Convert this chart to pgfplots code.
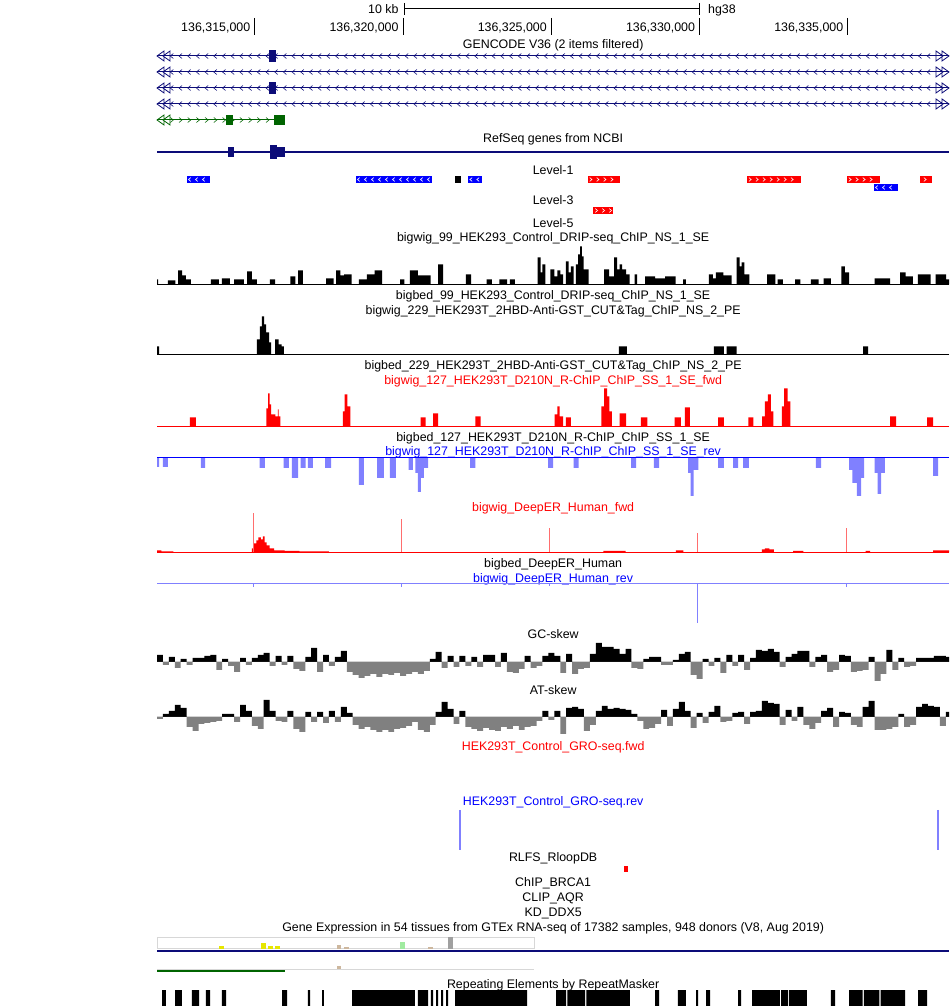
\documentclass[border=0pt]{standalone}
\usepackage{pgfplots}
\pgfplotsset{compat=1.18}
\usepackage{pgfplotstable}
\usepackage{fontspec}
\setmainfont{Liberation Sans}
\usetikzlibrary{decorations.markings}

\definecolor{navy}{RGB}{12,12,120}
\definecolor{ggreen}{RGB}{0,100,0}
\definecolor{ured}{RGB}{255,0,0}
\definecolor{ublue}{RGB}{0,0,255}
\definecolor{lblue}{RGB}{128,128,255}
\definecolor{sgray}{RGB}{128,128,128}
\definecolor{lgray}{RGB}{215,215,215}
\definecolor{gyellow}{RGB}{230,230,0}
\definecolor{gtan}{RGB}{205,183,158}
\definecolor{glgreen}{RGB}{160,235,160}
\definecolor{ggray}{RGB}{160,160,160}
\definecolor{pink}{RGB}{255,110,110}

\pgfdeclareplotmark{dtl}{%
  \pgfpathmoveto{\pgfqpoint{7pt}{5pt}}\pgfpathlineto{\pgfqpoint{0pt}{0pt}}\pgfpathlineto{\pgfqpoint{7pt}{-5pt}}\pgfpathclose
  \pgfpathmoveto{\pgfqpoint{13pt}{5pt}}\pgfpathlineto{\pgfqpoint{6pt}{0pt}}\pgfpathlineto{\pgfqpoint{13pt}{-5pt}}\pgfpathclose
  \pgfusepathqstroke}
\pgfdeclareplotmark{dtr}{%
  \pgfpathmoveto{\pgfqpoint{-7pt}{5pt}}\pgfpathlineto{\pgfqpoint{0pt}{0pt}}\pgfpathlineto{\pgfqpoint{-7pt}{-5pt}}\pgfpathclose
  \pgfpathmoveto{\pgfqpoint{-13pt}{5pt}}\pgfpathlineto{\pgfqpoint{-6pt}{0pt}}\pgfpathlineto{\pgfqpoint{-13pt}{-5pt}}\pgfpathclose
  \pgfusepathqstroke}

\tikzset{
  chevL/.style n args={3}{postaction={decorate},decoration={markings,mark=between positions 0 and 1 step #2 with {\draw[#1,line width=0.6pt] (#3*1.5pt,#3*2.5pt) -- (-#3*1.5pt,0pt) -- (#3*1.5pt,-#3*2.5pt);}}},
  chevR/.style n args={3}{postaction={decorate},decoration={markings,mark=between positions 0 and 1 step #2 with {\draw[#1,line width=0.6pt] (-#3*1.5pt,#3*2.5pt) -- (#3*1.5pt,0pt) -- (-#3*1.5pt,-#3*2.5pt);}}},
  lab/.style={anchor=base, inner sep=0pt, font=\fontsize{12.4}{14}\selectfont},
}
\pgfplotsset{trk/.style={hide axis, scale only axis, width=792pt, xmin=311.70, xmax=338.41, clip=false}}

\newcommand{\rect}[5]{\addplot[fill=#1,draw=none] coordinates {(#2,#4) (#3,#4) (#3,#5) (#2,#5)};}

% ---------- signal data (x in kb after 136,000,000; y in track units) ----------
\pgfplotstableread{
x y
311.70 0
311.70 5
311.74 0
312.07 4
312.32 0
312.41 14
312.55 9
312.67 5
312.84 0
313.52 5
313.79 0
313.89 6
314.16 0
314.30 5
314.63 0
314.74 13
314.90 5
315.07 0
315.51 5
315.68 0
316.20 8
316.37 0
316.46 14
316.62 0
317.40 6
317.66 0
317.74 14
317.88 9
318.01 10
318.26 0
318.51 5
318.78 10
319.04 14
319.29 0
319.90 5
320.04 0
320.23 14
320.50 9
320.93 0
321.18 20
321.35 0
322.12 10
322.29 0
322.82 5
322.99 0
323.25 5
323.51 0
323.60 5
323.77 0
324.54 27
324.64 12
324.70 20
324.80 0
324.97 15
325.10 8
325.20 14
325.30 10
325.40 0
325.49 23
325.58 12
325.66 18
325.75 0
325.83 20
325.90 30
325.97 38
326.03 28
326.09 15
326.26 0
326.78 15
326.95 8
327.12 27
327.22 15
327.30 20
327.39 15
327.52 10
327.64 0
327.81 10
327.89 0
328.16 8
328.50 6
328.84 8
329.19 0
329.44 5
329.54 0
330.31 10
330.45 6
330.55 12
330.80 9
331.08 0
331.25 27
331.35 18
331.42 22
331.51 10
331.68 0
332.28 10
332.55 0
332.63 5
332.81 0
333.22 5
333.40 0
333.75 5
334.01 0
334.18 6
334.43 0
334.78 18
334.90 12
335.04 0
335.90 6
336.42 0
336.76 12
336.95 8
337.19 0
337.36 10
337.79 0
337.96 10
338.31 5
338.41 0
}\drip

\pgfplotstableread{
x y
311.70 0
311.70 8
311.77 0
315.07 15
315.17 28
315.24 38
315.31 30
315.38 22
315.48 12
315.55 0
315.68 15
315.80 10
315.90 8
315.98 0
327.28 8
327.55 0
330.48 8
330.82 0
330.91 8
331.25 0
335.51 8
335.68 0
338.41 0
}\cuttag

\pgfplotstableread{
x y
311.70 0
312.81 9
313.01 0
315.39 18
315.45 33
315.50 22
315.55 12
315.69 10
315.78 17
315.80 10
315.86 0
317.97 15
318.03 32
318.12 20
318.22 0
320.59 9
320.76 0
321.01 13
321.18 0
322.44 10
322.61 0
325.11 12
325.20 20
325.28 10
325.40 0
325.49 9
325.66 0
326.69 20
326.78 38
326.88 30
326.96 15
327.04 0
327.30 13
327.52 0
328.02 9
328.24 0
329.16 9
329.37 0
329.50 19
329.67 0
330.62 9
330.82 0
331.64 9
331.81 0
332.11 10
332.20 25
332.30 32
332.40 15
332.49 0
332.77 20
332.85 38
332.97 25
333.06 0
336.42 10
336.63 0
337.67 9
337.87 0
338.41 0
}\rchipfwd

\pgfplotstableread{
x y
311.70 0
311.70 -9
311.77 0
311.90 -9
312.07 0
313.18 -10
313.32 0
315.16 -10
315.34 0
315.97 -10
316.15 0
316.25 -20
316.46 0
316.54 -10
316.71 0
316.79 -10
316.96 0
317.37 -10
317.57 0
318.51 -27
318.68 0
319.12 -20
319.35 0
319.55 -20
319.76 0
320.19 -12
320.33 0
320.41 -15
320.50 -34
320.60 -20
320.70 -10
320.84 0
322.26 -10
322.44 0
324.89 -10
325.06 0
325.75 -10
325.92 0
327.69 -10
327.86 0
328.46 -10
328.63 0
329.61 -15
329.70 -38
329.80 -12
329.96 0
330.62 -10
330.82 0
331.13 -10
331.30 0
331.47 -10
331.66 0
333.92 -10
334.10 0
335.04 -12
335.15 -25
335.30 -38
335.45 -20
335.55 0
335.90 -15
336.00 -36
336.12 -15
336.25 0
337.87 -18
338.04 0
338.41 0
}\rchiprev

\pgfplotstableread{
x y
311.70 0
311.70 2
311.85 1
312.25 0
314.90 4
314.97 9
315.05 12
315.12 15
315.20 13
315.27 16
315.33 10
315.40 7
315.50 4
315.65 2
316.00 1.5
316.50 1
317.50 0
326.75 1.5
327.50 0
329.20 2
329.45 0
332.10 3
332.20 4
332.35 3
332.50 0
333.15 1.5
333.50 0
335.60 1.5
335.75 0
337.87 2
338.41 0
}\deepfwd

\pgfplotstableread{
x gc at
311.70 0 0
311.70 7 -2
311.90 -3 3
312.10 5 6
312.30 -6 12
312.50 3 9
312.70 -3 -10
312.90 4 -14
313.10 4 -7
313.30 6 -6
313.50 7 -5
313.70 -8 -4
313.90 3 3
314.10 -4 3
314.30 -10 -5
314.50 4 12
314.70 -3 6
314.90 4 -9
315.10 7 -12
315.30 9 17
315.50 -4 6
315.70 6 -4
315.90 -3 -5
316.10 6 6
316.30 -7 -12
316.50 -9 -15
316.70 5 5
316.90 14 -5
317.10 -10 5
317.30 7 -6
317.50 -4 6
317.70 5 -5
317.90 11 10
318.10 -10 4
318.30 -13 -8
318.50 -16 -12
318.70 -14 -10
318.90 -12 -13
319.10 -15 -15
319.30 -12 -13
319.50 -13 -15
319.70 -11 -12
319.90 -14 -11
320.10 -12 -9
320.30 -10 -5
320.50 -12 -13
320.70 -9 -15
320.90 3 -8
321.10 10 5
321.30 -6 15
321.50 6 8
321.70 -5 -7
321.90 6 6
322.10 -4 -10
322.30 5 -12
322.50 -5 -14
322.70 7 -11
322.90 7 -13
323.10 -5 -14
323.30 9 -10
323.50 -10 -12
323.70 -11 -9
323.90 -7 -13
324.10 6 -10
324.30 -6 -9
324.50 -4 -4
324.70 6 6
324.90 9 -3
325.10 6 6
325.30 -11 -17
325.50 8 9
325.70 -12 10
325.90 -7 8
326.10 -6 -14
326.30 8 -8
326.50 19 6
326.70 15 11
326.90 15 8
327.10 13 9
327.30 8 8
327.50 13 7
327.70 -6 3
327.90 -7 -4
328.10 3 -12
328.30 5 -11
328.50 5 -7
328.70 -3 7
328.90 -3 -9
329.10 2 8
329.30 8 15
329.50 10 6
329.70 -13 -11
329.90 -17 4
330.10 3 -6
330.30 -4 5
330.50 4 11
330.70 -11 -5
330.90 7 -4
331.10 -4 4
331.30 7 5
331.50 -8 -7
331.70 4 5
331.90 12 6
332.10 11 16
332.30 13 14
332.50 10 13
332.70 -5 -8
332.90 5 7
333.10 8 -4
333.30 11 10
333.50 11 -8
333.70 -5 -12
333.90 5 -6
334.10 7 6
334.30 -10 9
334.50 -8 -10
334.70 7 5
334.90 6 4
335.10 -10 -8
335.30 -9 -10
335.50 -8 10
335.70 5 16
335.90 -19 -13
336.10 -12 -13
336.30 12 -12
336.50 -8 -10
336.70 4 3
336.90 -5 -10
337.10 -4 -8
337.30 4 10
337.50 4 13
337.70 4 11
337.90 6 10
338.10 6 -9
338.30 5 5
338.41 0 0
}\skew

\begin{document}
\begin{tikzpicture}
\useasboundingbox (0,0) rectangle (950pt,1006pt);

% ================= frame axis: annotation tracks, y = image row =================
\begin{axis}[trk, height=1006pt, ymin=0, ymax=1006, y dir=reverse, at={(157pt,0pt)}, anchor=south west]
% ruler
\addplot[black, line width=1pt] coordinates {(320.03,9) (330.01,9)};
\addplot[black, line width=1pt] coordinates {(320.03,3) (320.03,15)};
\addplot[black, line width=1pt] coordinates {(330.01,3) (330.01,15)};
\node[lab, anchor=base east] at (axis cs:319.85,13.5) {10 kb};
\node[lab, anchor=base west] at (axis cs:330.28,13.5) {hg38};
\addplot[black, line width=1pt] coordinates {(315,18) (315,35)};
\addplot[black, line width=1pt] coordinates {(320,18) (320,35)};
\addplot[black, line width=1pt] coordinates {(325,18) (325,35)};
\addplot[black, line width=1pt] coordinates {(330,18) (330,35)};
\addplot[black, line width=1pt] coordinates {(335,18) (335,35)};
\node[lab, anchor=base east] at (axis cs:314.85,31.5) {136,315,000};
\node[lab, anchor=base east] at (axis cs:319.85,31.5) {136,320,000};
\node[lab, anchor=base east] at (axis cs:324.85,31.5) {136,325,000};
\node[lab, anchor=base east] at (axis cs:329.85,31.5) {136,330,000};
\node[lab, anchor=base east] at (axis cs:334.85,31.5) {136,335,000};

% GENCODE
\node[lab] at (axis cs:325.06,48.5) {GENCODE V36 (2 items filtered)};
\addplot[navy, line width=1pt] coordinates {(311.70,56) (338.41,56)};
\addplot[navy, line width=1pt] coordinates {(311.70,72) (338.41,72)};
\addplot[navy, line width=1pt] coordinates {(311.70,88) (338.41,88)};
\addplot[navy, line width=1pt] coordinates {(311.70,104) (338.41,104)};
\addplot[draw=none, chevL={navy}{8.7pt}{1}] coordinates {(312.20,56) (337.95,56)};
\addplot[draw=none, chevL={navy}{8.7pt}{1}] coordinates {(312.20,72) (337.95,72)};
\addplot[draw=none, chevL={navy}{8.7pt}{1}] coordinates {(312.20,88) (337.95,88)};
\addplot[draw=none, chevL={navy}{8.7pt}{1}] coordinates {(312.20,104) (337.95,104)};
\addplot[only marks, mark=dtl, navy, mark options={line width=0.8pt}] coordinates {(311.70,56) (311.70,72) (311.70,88) (311.70,104)};
\addplot[only marks, mark=dtr, navy, mark options={line width=0.8pt}] coordinates {(338.41,56) (338.41,72) (338.41,88) (338.41,104)};
\rect{navy}{315.49}{315.70}{50}{62}
\rect{navy}{315.49}{315.70}{82}{94}
\addplot[ggreen, line width=1pt] coordinates {(311.70,120) (316.02,120)};
\addplot[draw=none, chevR={ggreen}{8.7pt}{1}] coordinates {(312.20,120) (315.90,120)};
\addplot[only marks, mark=dtl, ggreen, mark options={line width=0.8pt}] coordinates {(311.70,120)};
\rect{ggreen}{314.04}{314.26}{115}{125}
\rect{ggreen}{315.65}{316.02}{115}{125}

% RefSeq
\node[lab] at (axis cs:325.06,142.5) {RefSeq genes from NCBI};
\addplot[navy, line width=1.5pt] coordinates {(311.70,152) (338.41,152)};
\rect{navy}{314.08}{314.30}{147}{157}
\rect{navy}{315.51}{315.73}{145}{159}
\rect{navy}{315.73}{316.02}{147}{157}

% Level tracks
\node[lab] at (axis cs:325.06,174.5) {Level-1};
\rect{ublue}{312.70}{313.49}{176}{183}
\rect{ublue}{318.40}{320.98}{176}{183}
\rect{black}{321.75}{321.95}{176}{183}
\rect{ublue}{322.19}{322.66}{176}{183}
\rect{ured}{326.23}{327.32}{176}{183}
\rect{ured}{331.60}{333.42}{176}{183}
\rect{ured}{334.97}{336.09}{176}{183}
\rect{ured}{337.44}{337.84}{176}{183}
\rect{ublue}{335.87}{336.69}{184}{191}
\addplot[draw=none, chevL={white}{7pt}{0.75}] coordinates {(312.80,179.5) (313.40,179.5)};
\addplot[draw=none, chevL={white}{7pt}{0.75}] coordinates {(318.50,179.5) (320.90,179.5)};
\addplot[draw=none, chevL={white}{7pt}{0.75}] coordinates {(322.29,179.5) (322.58,179.5)};
\addplot[draw=none, chevR={white}{7pt}{0.75}] coordinates {(326.33,179.5) (327.22,179.5)};
\addplot[draw=none, chevR={white}{7pt}{0.75}] coordinates {(331.70,179.5) (333.32,179.5)};
\addplot[draw=none, chevR={white}{7pt}{0.75}] coordinates {(335.07,179.5) (335.99,179.5)};
\addplot[draw=none, chevR={white}{7pt}{0.75}] coordinates {(337.60,179.5) (337.70,179.5)};
\addplot[draw=none, chevL={white}{7pt}{0.75}] coordinates {(335.97,187.5) (336.60,187.5)};
\node[lab] at (axis cs:325.06,204.5) {Level-3};
\rect{ured}{326.40}{327.09}{207}{214}
\addplot[draw=none, chevR={white}{7pt}{0.75}] coordinates {(326.52,210.5) (327.00,210.5)};
\node[lab] at (axis cs:325.06,227.5) {Level-5};

% track labels
\node[lab] at (axis cs:325.06,241.5) {bigwig\_99\_HEK293\_Control\_DRIP-seq\_ChIP\_NS\_1\_SE};
\node[lab] at (axis cs:325.06,299.5) {bigbed\_99\_HEK293\_Control\_DRIP-seq\_ChIP\_NS\_1\_SE};
\node[lab] at (axis cs:325.06,314.5) {bigwig\_229\_HEK293T\_2HBD-Anti-GST\_CUT\&Tag\_ChIP\_NS\_2\_PE};
\node[lab] at (axis cs:325.06,369.5) {bigbed\_229\_HEK293T\_2HBD-Anti-GST\_CUT\&Tag\_ChIP\_NS\_2\_PE};
\node[lab, text=ured] at (axis cs:325.06,384.5) {bigwig\_127\_HEK293T\_D210N\_R-ChIP\_ChIP\_SS\_1\_SE\_fwd};
\node[lab] at (axis cs:325.06,441.5) {bigbed\_127\_HEK293T\_D210N\_R-ChIP\_ChIP\_SS\_1\_SE};
\node[lab, text=ublue] at (axis cs:325.06,455.5) {bigwig\_127\_HEK293T\_D210N\_R-ChIP\_ChIP\_SS\_1\_SE\_rev};
\node[lab, text=ured] at (axis cs:325.06,511.5) {bigwig\_DeepER\_Human\_fwd};
\node[lab] at (axis cs:325.06,567.5) {bigbed\_DeepER\_Human};
\node[lab, text=ublue] at (axis cs:325.06,582.5) {bigwig\_DeepER\_Human\_rev};
\node[lab] at (axis cs:325.06,638.5) {GC-skew};
\node[lab] at (axis cs:325.06,694.5) {AT-skew};
\node[lab, text=ured] at (axis cs:325.06,750.5) {HEK293T\_Control\_GRO-seq.fwd};
\node[lab, text=ublue] at (axis cs:325.06,805.5) {HEK293T\_Control\_GRO-seq.rev};
\node[lab] at (axis cs:325.06,861.5) {RLFS\_RloopDB};
\rect{ured}{327.45}{327.58}{866}{872}
\node[lab] at (axis cs:325.06,886.5) {ChIP\_BRCA1};
\node[lab] at (axis cs:325.06,901.5) {CLIP\_AQR};
\node[lab] at (axis cs:325.06,916.5) {KD\_DDX5};
\node[lab] at (axis cs:325.06,931.5) {Gene Expression in 54 tissues from GTEx RNA-seq of 17382 samples, 948 donors (V8, Aug 2019)};

% GTEx
\addplot[lgray, line width=1pt] coordinates {(311.70,937.5) (324.42,937.5) (324.42,948.5) (311.70,948.5) (311.70,937.5)};
\rect{gyellow}{313.80}{313.97}{946}{949}
\rect{gyellow}{315.22}{315.39}{943}{949}
\rect{gyellow}{315.45}{315.62}{946}{949}
\rect{gyellow}{315.69}{315.86}{946}{949}
\rect{gtan}{317.76}{317.89}{945}{949}
\rect{gtan}{317.99}{318.16}{947}{949}
\rect{glgreen}{319.88}{320.05}{942}{949}
\rect{gtan}{320.83}{321.00}{947}{949}
\rect{ggray}{321.53}{321.68}{937}{949}
\addplot[navy, line width=2pt] coordinates {(311.70,950.5) (338.41,950.5)};
\addplot[lgray, line width=1pt] coordinates {(311.70,969) (324.42,969)};
\rect{gtan}{317.76}{317.89}{966}{968.5}
\addplot[ggreen, line width=2pt] coordinates {(311.70,971) (316.02,971)};

% RepeatMasker
\node[lab] at (axis cs:325.06,988.5) {Repeating Elements by RepeatMasker};
\addplot[const plot, fill=black, draw=none] coordinates {
(311.70,1006)
(311.87,990)(312.00,1006)
(312.31,990)(312.54,1006)
(312.88,990)(313.12,1006)
(313.35,990)(313.49,1006)
(313.89,990)(314.03,1006)
(315.92,990)(316.09,1006)
(316.79,990)(316.86,1006)
(317.27,990)(317.33,1006)
(318.28,990)(320.40,1006)
(320.50,990)(320.84,1006)
(320.94,990)(321.01,1006)
(321.11,990)(321.18,1006)
(321.28,990)(321.35,1006)
(321.45,990)(321.52,1006)
(321.75,990)(324.18,1006)
(325.16,990)(325.50,1006)(325.54,990)(326.14,1006)(326.18,990)(327.65,1006)
(328.50,990)(328.63,1006)
(329.27,990)(329.54,1006)
(329.88,990)(329.95,1006)
(330.22,990)(330.35,1006)
(331.30,990)(331.40,1006)
(331.77,990)(332.71,1006)(332.75,990)(332.98,1006)(333.02,990)(333.62,1006)
(334.43,990)(334.57,1006)
(335.04,990)(335.50,1006)(335.54,990)(336.06,1006)(336.10,990)(336.93,1006)
(337.37,990)(337.67,1006)
(338.41,1006)};
\end{axis}

% ================= signal tracks =================
% DRIP
\begin{axis}[trk, height=42pt, ymin=0, ymax=42, at={(157pt,721.5pt)}, anchor=south west]
\addplot[const plot, fill=black, draw=none] table[x=x,y=y] {\drip};
\addplot[black, line width=1pt] coordinates {(311.70,0) (338.41,0)};
\end{axis}
% CUT&Tag
\begin{axis}[trk, height=42pt, ymin=0, ymax=42, at={(157pt,651.5pt)}, anchor=south west]
\addplot[const plot, fill=black, draw=none] table[x=x,y=y] {\cuttag};
\addplot[black, line width=1pt] coordinates {(311.70,0) (338.41,0)};
\end{axis}
% R-ChIP fwd
\begin{axis}[trk, height=42pt, ymin=0, ymax=42, at={(157pt,579.5pt)}, anchor=south west]
\addplot[const plot, fill=ured, draw=none] table[x=x,y=y] {\rchipfwd};
\addplot[ured, line width=1pt] coordinates {(311.70,0) (338.41,0)};
\end{axis}
% R-ChIP rev
\begin{axis}[trk, height=42pt, ymin=-42, ymax=0, at={(157pt,548pt)}, anchor=north west]
\addplot[const plot, fill=lblue, draw=none] table[x=x,y=y] {\rchiprev};
\addplot[ublue, line width=1pt] coordinates {(311.70,0) (338.41,0)};
\end{axis}
% DeepER fwd
\begin{axis}[trk, height=42pt, ymin=0, ymax=42, at={(157pt,453.5pt)}, anchor=south west]
\addplot[const plot, fill=ured, draw=none] table[x=x,y=y] {\deepfwd};
\addplot[ycomb, pink, line width=1pt] coordinates {(314.94,39) (319.93,33) (324.92,24) (329.93,19) (334.95,24)};
\addplot[ured, line width=1pt] coordinates {(311.70,0) (338.41,0)};
\end{axis}
% DeepER rev
\begin{axis}[trk, height=42pt, ymin=-42, ymax=0, at={(157pt,422pt)}, anchor=north west]
\addplot[ycomb, lblue, line width=1pt] coordinates {(314.94,-3) (319.93,-3) (324.92,-2) (329.93,-39) (334.95,-3)};
\addplot[lblue, line width=1pt] coordinates {(311.70,0) (338.41,0)};
\end{axis}
% GC-skew
\begin{axis}[trk, height=40pt, ymin=-20, ymax=20, at={(157pt,324pt)}, anchor=south west]
\addplot[const plot, fill=black, draw=none, y filter/.code={\pgfmathparse{max(\pgfmathresult,0)}}] table[x=x,y=gc] {\skew};
\addplot[const plot, fill=sgray, draw=none, y filter/.code={\pgfmathparse{min(\pgfmathresult,0)}}] table[x=x,y=gc] {\skew};
\end{axis}
% AT-skew
\begin{axis}[trk, height=40pt, ymin=-20, ymax=20, at={(157pt,269pt)}, anchor=south west]
\addplot[const plot, fill=black, draw=none, y filter/.code={\pgfmathparse{max(\pgfmathresult,0)}}] table[x=x,y=at] {\skew};
\addplot[const plot, fill=sgray, draw=none, y filter/.code={\pgfmathparse{min(\pgfmathresult,0)}}] table[x=x,y=at] {\skew};
\end{axis}
% GRO-seq rev
\begin{axis}[trk, height=40pt, ymin=-40, ymax=0, at={(157pt,196pt)}, anchor=north west]
\addplot[ycomb, lblue, line width=2.5pt] coordinates {(321.92,-40) (338.04,-40)};
\end{axis}
\end{tikzpicture}
\end{document}
